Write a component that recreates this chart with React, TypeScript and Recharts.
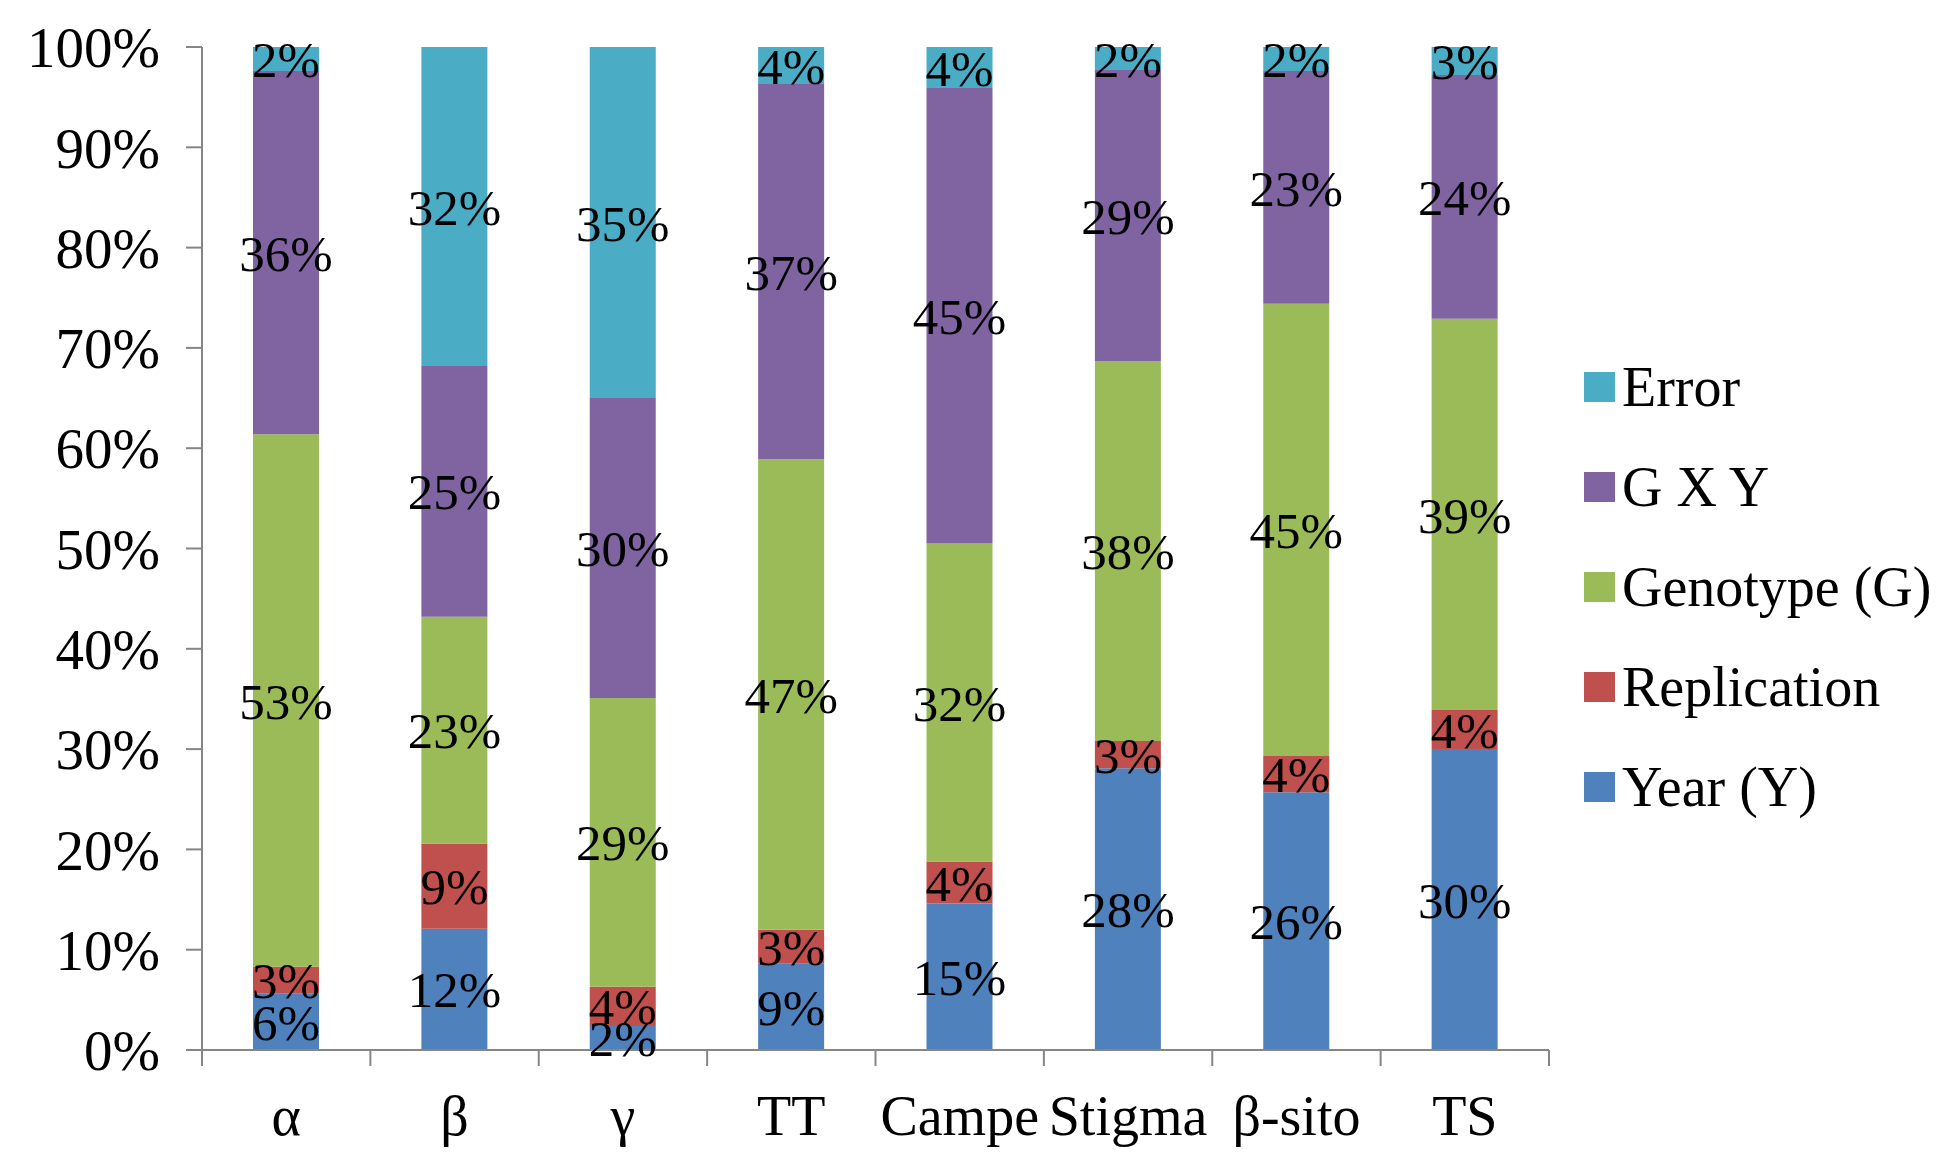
import React from "react";
import { BarChart, Bar, XAxis, YAxis, LabelList } from "recharts";

// categories (x axis) and the five variance components, in percent
const categories = ["α", "β", "γ", "TT", "Campe", "Stigma", "β-sito", "TS"];
const yearValues = [5.6, 12.1, 2.4, 8.6, 14.6, 28.1, 25.7, 30.0];
const replicationValues = [2.7, 8.5, 3.9, 3.4, 4.2, 2.7, 3.6, 3.9];
const genotypeValues = [53.1, 22.6, 28.8, 46.9, 31.7, 37.9, 45.1, 39.0];
const gxyValues = [36.2, 25.0, 29.9, 37.4, 45.4, 29.0, 23.2, 24.3];
const errorValues = [2.4, 31.8, 35.0, 3.7, 4.1, 2.3, 2.4, 2.8];
const yTicks = [0, 10, 20, 30, 40, 50, 60, 70, 80, 90, 100];

const data = categories.map((name, i) => ({
  name,
  year: yearValues[i],
  replication: replicationValues[i],
  genotype: genotypeValues[i],
  gxy: gxyValues[i],
  error: errorValues[i],
}));

// bottom to top
const series = [
  { key: "year", label: "Year (Y)", color: "#4F81BD" },
  { key: "replication", label: "Replication", color: "#C0504D" },
  { key: "genotype", label: "Genotype (G)", color: "#9BBB59" },
  { key: "gxy", label: "G X Y", color: "#8064A2" },
  { key: "error", label: "Error", color: "#4BACC6" },
];

const FONT = "'Liberation Serif', 'Times New Roman', serif";
const AXIS_COLOR = "#868686";
const W = 1956;
const H = 1176;
const PLOT_LEFT = 202;
const PLOT_RIGHT = 1549;
const PLOT_TOP = 47;
const PLOT_BOTTOM = 1050;
const BAND = (PLOT_RIGHT - PLOT_LEFT) / categories.length;

// x tick: label under the bar, tick marks on the category boundaries
const XTick = (props: any) => {
  const { x, payload, index } = props;
  const last = index === categories.length - 1;
  return (
    <g>
      <line
        x1={x - BAND / 2}
        x2={x - BAND / 2}
        y1={PLOT_BOTTOM}
        y2={PLOT_BOTTOM + 16}
        stroke={AXIS_COLOR}
        strokeWidth={2}
      />
      {last && (
        <line
          x1={x + BAND / 2}
          x2={x + BAND / 2}
          y1={PLOT_BOTTOM}
          y2={PLOT_BOTTOM + 16}
          stroke={AXIS_COLOR}
          strokeWidth={2}
        />
      )}
      <text
        x={x}
        y={PLOT_BOTTOM + 85}
        textAnchor="middle"
        fontSize={56}
        fontFamily={FONT}
        fill="#000"
      >
        {payload.value}
      </text>
    </g>
  );
};

export default function App() {
  return (
    <div
      style={{
        position: "absolute",
        left: 0,
        top: 0,
        width: W,
        height: H,
        background: "#fff",
      }}
    >
      <BarChart
        width={W}
        height={H}
        data={data}
        margin={{
          top: PLOT_TOP,
          right: W - PLOT_RIGHT,
          bottom: 0,
          left: 0,
        }}
      >
        <XAxis
          dataKey="name"
          height={H - PLOT_BOTTOM}
          axisLine={{ stroke: AXIS_COLOR, strokeWidth: 2 }}
          tickLine={false}
          tick={<XTick />}
          interval={0}
        />
        <YAxis
          width={PLOT_LEFT}
          domain={[0, 100]}
          allowDataOverflow
          ticks={yTicks}
          interval={0}
          tickFormatter={(v) => `${v}%`}
          axisLine={{ stroke: AXIS_COLOR, strokeWidth: 2 }}
          tickLine={{ stroke: AXIS_COLOR, strokeWidth: 2 }}
          tickSize={16}
          tickMargin={26}
          tick={{ fontSize: 57, fontFamily: FONT, fill: "#000" }}
        />
        {series.map((s) => (
          <Bar
            key={s.key}
            dataKey={s.key}
            stackId="a"
            fill={s.color}
            barSize={66}
            isAnimationActive={false}
          >
            <LabelList
              dataKey={s.key}
              position="center"
              formatter={(v: any) => `${Math.round(Number(v))}%`}
              fill="#000"
              fontSize={51}
              fontFamily={FONT}
            />
          </Bar>
        ))}
      </BarChart>

      {/* legend, top to bottom = top of stack first */}
      {[...series].reverse().map((s, i) => (
        <div
          key={s.key}
          style={{
            position: "absolute",
            left: 1584,
            top: 387 + i * 100 - 30,
            height: 60,
            display: "flex",
            alignItems: "center",
            whiteSpace: "nowrap",
          }}
        >
          <div
            style={{ width: 31, height: 30, background: s.color, marginRight: 7 }}
          />
          <span style={{ fontFamily: FONT, fontSize: 56, lineHeight: 1, color: "#000" }}>
            {s.label}
          </span>
        </div>
      ))}
    </div>
  );
}
